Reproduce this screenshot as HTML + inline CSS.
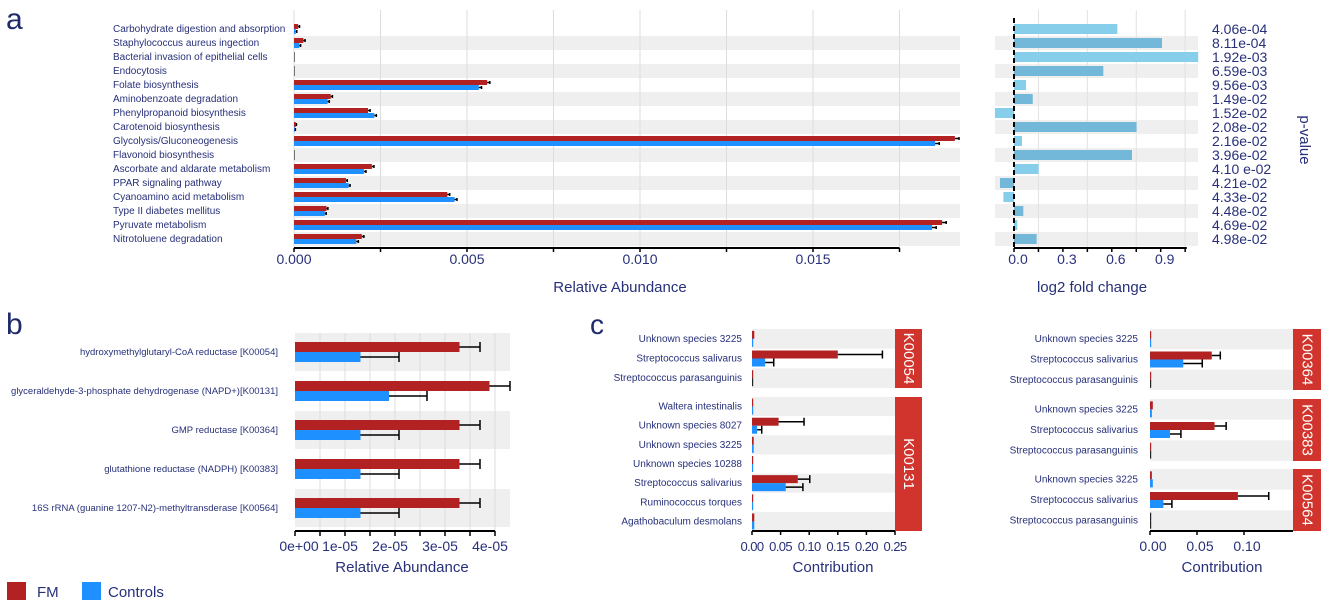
<!DOCTYPE html>
<html><head><meta charset="utf-8"><style>
html,body{margin:0;padding:0;background:#fff;}
svg{display:block;font-family:"Liberation Sans",sans-serif;}
.lab{fill:#27307a;font-size:10px;}
.blab{fill:#27307a;font-size:9.5px;}
.tick{fill:#27307a;font-size:14px;}
.ctick{fill:#27307a;font-size:13px;letter-spacing:-0.6px;}
.ttl{fill:#27307a;font-size:15px;}
</style></head><body>
<svg id="fig" width="1325" height="604" viewBox="0 0 1325 604">
<text x="6" y="29" font-size="30" fill="#1f2a6b">a</text>
<text x="6" y="334" font-size="30" fill="#1f2a6b">b</text>
<text x="590" y="334" font-size="28" fill="#1f2a6b">c</text>
<g>
<rect x="7" y="582" width="19" height="18" fill="#b22222"/>
<text x="37" y="597" class="ttl">FM</text>
<rect x="82" y="582" width="19" height="18" fill="#1e90ff"/>
<text x="108" y="597" class="ttl">Controls</text>
</g>
</svg>
<script>
const FMC="#b22222", CTC="#1e90ff";
// ---- Panel a data
const aCategories=["Carbohydrate digestion and absorption","Staphylococcus aureus ingection","Bacterial invasion of epithelial cells","Endocytosis","Folate biosynthesis","Aminobenzoate degradation","Phenylpropanoid biosynthesis","Carotenoid biosynthesis","Glycolysis/Gluconeogenesis","Flavonoid biosynthesis","Ascorbate and aldarate metabolism","PPAR signaling pathway","Cyanoamino acid metabolism","Type II diabetes mellitus","Pyruvate metabolism","Nitrotoluene degradation"];
const aFM=[0.00012,0.00027,0,0,0.00558,0.00106,0.00214,0.00005,0.0191,0,0.00225,0.0015,0.00443,0.00094,0.01873,0.00196];
const aCtrl=[0.00005,0.00015,0,0,0.00534,0.00097,0.00232,0.00002,0.01853,0,0.00202,0.00158,0.00464,0.00089,0.01844,0.0018];
const aFMerr=[0.00004,0.00005,0,0,0.00008,0.00005,0.00006,0.00002,0.00012,0,0.00006,0.00004,0.00007,0.00004,0.00012,0.00006];
const aCtrlErr=[0.00003,0.00004,0,0,0.00008,0.00005,0.00006,0.00002,0.00012,0,0.00006,0.00004,0.00007,0.00004,0.00012,0.00006];
const aTicks=[0,0.005,0.01,0.015];
const aTickLabels=["0.000","0.005","0.010","0.015"];
const lfcValues=[0.634,0.908,1.13,0.548,0.074,0.115,-0.117,0.752,0.049,0.724,0.151,-0.086,-0.065,0.057,0.02,0.139];
const pValues=["4.06e-04","8.11e-04","1.92e-03","6.59e-03","9.56e-03","1.49e-02","1.52e-02","2.08e-02","2.16e-02","3.96e-02","4.10 e-02","4.21e-02","4.33e-02","4.48e-02","4.69e-02","4.98e-02"];
const lfcTicks=[0,0.3,0.6,0.9];
const lfcTickLabels=["0.0","0.3","0.6","0.9"];
// ---- Panel b data
const bCategories=["hydroxymethylglutaryl-CoA reductase [K00054]","glyceraldehyde-3-phosphate dehydrogenase (NAPD+)[K00131]","GMP reductase [K00364]","glutathione reductase (NADPH) [K00383]","16S rRNA (guanine 1207-N2)-methyltransderase [K00564]"];
const bFM=[3.29e-5,3.89e-5,3.29e-5,3.29e-5,3.29e-5];
const bFMerr=[0.41e-5,0.41e-5,0.41e-5,0.41e-5,0.41e-5];
const bCtrl=[1.31e-5,1.88e-5,1.31e-5,1.31e-5,1.31e-5];
const bCtrlErr=[0.77e-5,0.76e-5,0.77e-5,0.77e-5,0.77e-5];
const bTicks=[0,1e-5,2e-5,3e-5,4e-5];
const bTickLabels=["0e+00","1e-05","2e-05","3e-05","4e-05"];
// ---- Panel c data
const cL1Species=["Unknown species 3225","Streptococcus salivarus","Streptococcus parasanguinis"];
const cL1FM=[0.004,0.150,0.001];const cL1FMerr=[0,0.078,0];
const cL1Ct=[0.001,0.023,0];const cL1CtErr=[0,0.015,0];
const cL2Species=["Waltera intestinalis","Unknown species 8027","Unknown species 3225","Unknown species 10288","Streptococcus salivarius","Ruminococcus torques","Agathobaculum desmolans"];
const cL2FM=[0.001,0.0465,0.003,0.001,0.080,0.001,0.004];const cL2FMerr=[0,0.0445,0,0,0.021,0,0];
const cL2Ct=[0.001,0.009,0.003,0.001,0.059,0.001,0.004];const cL2CtErr=[0,0.008,0,0,0.030,0,0];
const cRSpecies=["Unknown species 3225","Streptococcus salivarius","Streptococcus parasanguinis"];
const cR1FM=[0.001,0.0657,0.001];const cR1FMerr=[0,0.0091,0];const cR1Ct=[0.001,0.0354,0];const cR1CtErr=[0,0.0202,0];
const cR2FM=[0.003,0.0687,0.001];const cR2FMerr=[0,0.0123,0];const cR2Ct=[0.002,0.0212,0];const cR2CtErr=[0,0.0117,0];
const cR3FM=[0.002,0.0935,0];const cR3FMerr=[0,0.0328,0];const cR3Ct=[0.003,0.0142,0];const cR3CtErr=[0,0.0091,0];
const cLTicks=[0,0.05,0.1,0.15,0.2,0.25];const cLTickLabels=["0.00","0.05","0.10","0.15","0.20","0.25"];
const cRTicks=[0,0.05,0.1];const cRTickLabels=["0.00","0.05","0.10"];

const svg=document.getElementById('fig');
const NS="http://www.w3.org/2000/svg";
function mk(tag,attrs,txt){const e=document.createElementNS(NS,tag);for(const k in attrs)e.setAttribute(k,attrs[k]);if(txt!==undefined)e.textContent=txt;svg.appendChild(e);return e;}
function errbar(x1,x2,y,h,name){
  let e=mk('path',{d:`M${x1},${y}H${x2}M${x2},${y-h}V${y+h}`,stroke:'#000','stroke-width':1.5,fill:'none'});
  
  
}

// ===== Panel a left
const aX=v=>294+v*34600;
const aTop=22,aRow=14;
aCategories.forEach((c,i)=>{
  const y=aTop+i*aRow;
  if(i%2==1){let r=mk('rect',{x:294,y:y,width:666,height:aRow,fill:'#efefef'});
    
    }
  let t=mk('text',{x:113,y:y+10,class:'lab'},c);
  
  
});
[0.0025,0.0075,0.0125,0.0175].forEach(v=>{let l=mk('line',{x1:aX(v),x2:aX(v),y1:aTop-12,y2:248,stroke:'#ddd','stroke-width':1});
  
  });
aTicks.forEach(v=>{let l=mk('line',{x1:aX(v),x2:aX(v),y1:aTop-12,y2:248,stroke:'#ddd'});
  
  });
aCategories.forEach((c,i)=>{
  const cy=aTop+i*aRow+7;
  let r=mk('rect',{x:294,y:cy-5,width:Math.max(aX(aFM[i])-294,0.8),height:5,fill:aFM[i]>0?FMC:'#555'});
  
  
  let r2=mk('rect',{x:294,y:cy,width:Math.max(aX(aCtrl[i])-294,0.8),height:5,fill:aCtrl[i]>0?CTC:'#555'});
  
  
  if(aFM[i]>0)errbar(aX(aFM[i]),aX(aFM[i]+aFMerr[i]),cy-2.5,1.5,'error-bar-fm');
  if(aCtrl[i]>0)errbar(aX(aCtrl[i]),aX(aCtrl[i]+aCtrlErr[i]),cy+2.5,1.5,'error-bar-controls');
});
let ax=mk('path',{d:`M294,248H${aX(0.0175)}`,stroke:'#000','stroke-width':2});


[0,0.0025,0.005,0.0075,0.01,0.0125,0.015,0.0175].forEach(v=>{let t=mk('line',{x1:aX(v),x2:aX(v),y1:248,y2:252,stroke:'#000','stroke-width':1.5});
  
  });
aTicks.forEach((v,i)=>{let t=mk('text',{x:aX(v),y:264,class:'tick','text-anchor':'middle'},aTickLabels[i]);
  
  });
let at=mk('text',{x:620,y:292,class:'ttl','text-anchor':'middle'},'Relative Abundance');



// ===== Panel a right (log2 fold change)
const lX=v=>1014+v*163;
aCategories.forEach((c,i)=>{
  const y=aTop+i*aRow;
  if(i%2==1){let r=mk('rect',{x:995,y:y,width:203,height:aRow,fill:'#efefef'});
    
    }
});
[0.15,0.45,0.75,1.05].forEach(v=>{let l=mk('line',{x1:lX(v),x2:lX(v),y1:aTop-12,y2:248,stroke:'#e2e2e2'});
  
  });
lfcValues.forEach((v,i)=>{
  const cy=aTop+i*aRow+7;
  let r=mk('rect',{x:Math.min(lX(0),lX(v)),y:cy-5,width:Math.abs(lX(v)-lX(0)),height:10,fill:i%2?'#74b8d9':'#87ceeb'});
  
  
  let p=mk('text',{x:1212,y:cy+5,fill:'#27307a','font-size':14},pValues[i]);
  
  
});
let zl=mk('line',{x1:lX(0),x2:lX(0),y1:aTop-4,y2:248,stroke:'#000','stroke-width':2,'stroke-dasharray':'5,3'});


let lax=mk('path',{d:`M${lX(0)},248H${lX(1.06)}`,stroke:'#000','stroke-width':2});


[0,0.15,0.3,0.45,0.6,0.75,0.9,1.05].forEach(v=>{let t=mk('line',{x1:lX(v),x2:lX(v),y1:248,y2:252,stroke:'#000','stroke-width':1.5});
  
  });
lfcTicks.forEach((v,i)=>{let t=mk('text',{x:lX(v)+4,y:264,class:'tick','text-anchor':'middle'},lfcTickLabels[i]);
  
  });
let lt=mk('text',{x:1092,y:292,class:'ttl','text-anchor':'middle'},'log2 fold change');


let pv=mk('text',{x:1300,y:140,class:'ttl','text-anchor':'middle',transform:'rotate(90 1300 140)'},'p-value');



// ===== Panel b
const bX=v=>295+v*5e6;
bCategories.forEach((c,i)=>{
  const cy=352+i*39;
  if(i%2==0){let r=mk('rect',{x:295,y:cy-19,width:215,height:38,fill:'#efefef'});
    
    }
});
[0.5e-5,1e-5,1.5e-5,2e-5,2.5e-5,3e-5,3.5e-5,4e-5].forEach(v=>{let l=mk('line',{x1:bX(v),x2:bX(v),y1:333,y2:531,stroke:'#ddd'});
  
  });
bCategories.forEach((c,i)=>{
  const cy=352+i*39;
  let t=mk('text',{x:278,y:cy+3,class:'blab','text-anchor':'end'},c);
  
  
  let r=mk('rect',{x:295,y:cy-10,width:bX(bFM[i])-295,height:10,fill:FMC});
  
  
  let r2=mk('rect',{x:295,y:cy,width:bX(bCtrl[i])-295,height:10,fill:CTC});
  
  
  errbar(bX(bFM[i]),bX(bFM[i]+bFMerr[i]),cy-5,5,'error-bar-fm');
  errbar(bX(bCtrl[i]),bX(bCtrl[i]+bCtrlErr[i]),cy+5,5,'error-bar-controls');
});
let bax=mk('path',{d:`M295,531H${bX(4e-5)}`,stroke:'#000','stroke-width':2});


[0,0.5e-5,1e-5,1.5e-5,2e-5,2.5e-5,3e-5,3.5e-5,4e-5].forEach(v=>{let t=mk('line',{x1:bX(v),x2:bX(v),y1:531,y2:536,stroke:'#000','stroke-width':1.5});
  
  });
bTicks.forEach((v,i)=>{let t=mk('text',{x:bX(v)+(i==0?4:-5),y:551,class:'tick','text-anchor':'middle'},bTickLabels[i]);
  
  });
let bt=mk('text',{x:402,y:572,class:'ttl','text-anchor':'middle'},'Relative Abundance');



// ===== Panel c facets
function facet(x0,scale,bandR,labR,top,bottom,species,fm,fme,ct,cte,strip,stripW){
  const n=species.length,rh=(bottom-top)/n;
  const X=v=>x0+v*scale;
  species.forEach((s,i)=>{
    const y=top+i*rh, cy=y+rh/2;
    if(i%2==0){let r=mk('rect',{x:x0,y:y,width:bandR-x0,height:rh,fill:'#efefef'});
      
      }
    let t=mk('text',{x:labR,y:cy+3,class:'lab','text-anchor':'end'},s);
    
    
    let r=mk('rect',{x:x0,y:cy-8,width:Math.max(X(fm[i])-x0,1.2),height:8,fill:fm[i]>0?FMC:'#222'});
    
    
    let r2=mk('rect',{x:x0,y:cy,width:Math.max(X(ct[i])-x0,1.2),height:8,fill:ct[i]>0?CTC:'#222'});
    
    
    if(fme[i]>0)errbar(X(fm[i]),X(fm[i]+fme[i]),cy-4,4,'error-bar-fm');
    if(cte[i]>0)errbar(X(ct[i]),X(ct[i]+cte[i]),cy+4,4,'error-bar-controls');
  });
  let st=mk('rect',{x:bandR,y:top,width:stripW,height:bottom-top,fill:'#d0342c'});
  
  
  const sx=bandR+stripW/2, sy=(top+bottom)/2;
  let sl=mk('text',{x:sx,y:sy,fill:'#fff','font-size':15,'text-anchor':'middle','dominant-baseline':'central',transform:`rotate(90 ${sx} ${sy})`},strip);
  
  
}
const cLX=v=>752+v*572;
facet(752,572,895,742,329,388,cL1Species,cL1FM,cL1FMerr,cL1Ct,cL1CtErr,'K00054',27);
facet(752,572,895,742,397,531,cL2Species,cL2FM,cL2FMerr,cL2Ct,cL2CtErr,'K00131',27);
const cRX=v=>1150+v*940;
facet(1150,940,1293,1138,329,390,cRSpecies,cR1FM,cR1FMerr,cR1Ct,cR1CtErr,'K00364',28);
facet(1150,940,1293,1138,399,461,cRSpecies,cR2FM,cR2FMerr,cR2Ct,cR2CtErr,'K00383',28);
facet(1150,940,1293,1138,469,531,cRSpecies,cR3FM,cR3FMerr,cR3Ct,cR3CtErr,'K00564',28);
let clax=mk('path',{d:`M752,531H${cLX(0.25)}`,stroke:'#000','stroke-width':2});


let crax=mk('path',{d:`M1150,531H1293`,stroke:'#000','stroke-width':2});


cLTicks.forEach((v,i)=>{
  let t=mk('line',{x1:cLX(v),x2:cLX(v),y1:531,y2:535,stroke:'#000','stroke-width':1.5});
  
  
  let l=mk('text',{x:cLX(v),y:551,class:'ctick','text-anchor':'middle'},cLTickLabels[i]);
  
  
});
cRTicks.forEach((v,i)=>{
  let t=mk('line',{x1:cRX(v),x2:cRX(v),y1:531,y2:535,stroke:'#000','stroke-width':1.5});
  
  
  let l=mk('text',{x:cRX(v)+3,y:551,class:'tick','text-anchor':'middle'},cRTickLabels[i]);
  
  
});
let ct1=mk('text',{x:833,y:572,class:'ttl','text-anchor':'middle'},'Contribution');


let ct2=mk('text',{x:1222,y:572,class:'ttl','text-anchor':'middle'},'Contribution');


</script>
</body></html>
